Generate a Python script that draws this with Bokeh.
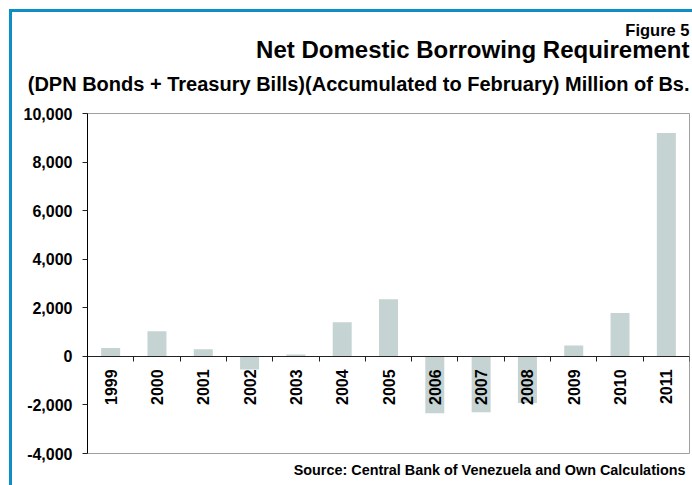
import math
from bokeh.plotting import figure
from bokeh.models import (Range1d, FixedTicker, NumeralTickFormatter, CustomJSTickFormatter,
                          Title, ColumnDataSource, InlineStyleSheet)
from bokeh.core.properties import value
from bokeh.embed import file_html
from bokeh.resources import INLINE

# ---- data ----
years = ["1999", "2000", "2001", "2002", "2003", "2004", "2005",
         "2006", "2007", "2008", "2009", "2010", "2011"]
borrowing = [340, 1030, 290, -540, 80, 1400, 2350,
             -2340, -2300, -1925, 450, 1790, 9200]
y_ticks = [-4000, -2000, 0, 2000, 4000, 6000, 8000, 10000]

fig_label = "Figure 5"
title = "Net Domestic Borrowing Requirement"
subtitle = "(DPN Bonds + Treasury Bills)(Accumulated to February) Million of Bs."
source_note = "Source:  Central Bank of Venezuela and Own Calculations"

positions = list(range(1, len(years) + 1))
boundaries = [i + 0.5 for i in range(len(years) + 1)]

FONT = "Liberation Sans"
BAR = "#c5d3d3"
BLUE = "#0b8fc4"

src = ColumnDataSource(dict(x=positions, year=years, value=borrowing))

p = figure(width=692, height=485, output_backend="svg", toolbar_location=None,
           title=None,
           x_range=Range1d(0.5, len(years) + 0.5), y_range=Range1d(y_ticks[0], y_ticks[-1]),
           min_border_left=87, min_border_right=3, min_border_top=113, min_border_bottom=32)
p.background_fill_color = "white"
p.border_fill_color = "white"
p.outline_line_color = "#a0a0a0"
p.outline_line_width = 1
p.xgrid.visible = False
p.ygrid.visible = False

p.vbar(x="x", top="value", bottom=0, width=0.41, source=src,
       fill_color=BAR, line_color=None)

p.text(x="x", y=0, text="year", source=src, angle=math.pi / 2,
       text_align="right", text_baseline="middle", y_offset=13,
       text_font=value(FONT), text_font_style="bold", text_font_size="16px",
       text_color="black")

# x axis at zero with ticks between categories
xa = p.xaxis[0]
xa.fixed_location = 0
xa.ticker = FixedTicker(ticks=boundaries)
xa.formatter = CustomJSTickFormatter(code="return ''")
xa.major_tick_out = 5
xa.major_tick_in = 0
xa.minor_tick_line_color = None
xa.axis_line_color = "#222222"
xa.major_tick_line_color = "#222222"
xa.major_label_text_font_size = "1px"
xa.major_label_standoff = 0

ya = p.yaxis[0]
ya.ticker = FixedTicker(ticks=y_ticks)
ya.formatter = NumeralTickFormatter(format="0,0")
ya.major_tick_out = 5
ya.major_tick_in = 0
ya.minor_tick_line_color = None
ya.axis_line_color = "black"
ya.major_tick_line_color = "#222222"
ya.major_label_standoff = 10
ya.major_label_text_font = FONT
ya.major_label_text_font_style = "bold"
ya.major_label_text_font_size = "16px"
ya.major_label_text_color = "black"

def make_title(text, size, standoff, valign="bottom"):
    return Title(text=text, align="right", offset=0, standoff=standoff,
                 vertical_align=valign,
                 text_font=FONT, text_font_style="bold",
                 text_font_size=size, text_color="black")

# titles above (closest to the frame first)
p.add_layout(make_title(subtitle, "20px", 37.6), "above")
p.add_layout(make_title(title, "24px", -22.5), "above")
p.add_layout(make_title(fig_label, "16.5px", 11.5), "above")

# source note below
p.add_layout(make_title(source_note, "14.4px", 12), "below")

# blue frame (top and left) drawn as an overlay
p.stylesheets = [InlineStyleSheet(css=(
    ":host::after { content: ''; position: absolute; left: 9px; top: 9px; right: 0; bottom: 0;"
    " border-top: 3px solid " + BLUE + "; border-left: 3px solid " + BLUE + ";"
    " pointer-events: none; box-sizing: border-box; }"))]

open("out.html", "w").write(file_html(p, INLINE))
